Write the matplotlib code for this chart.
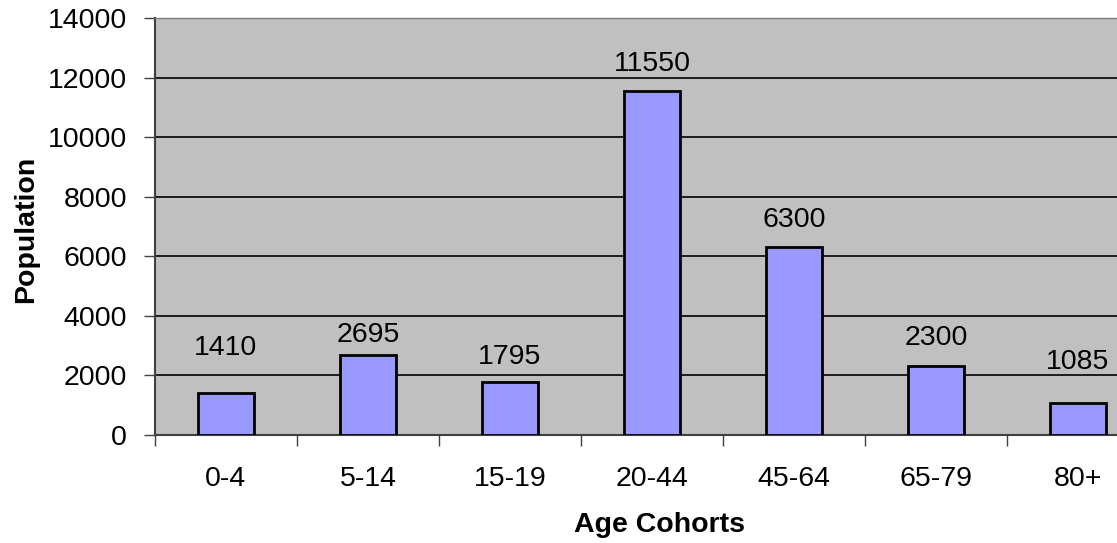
import matplotlib
matplotlib.use("Agg")
import matplotlib.pyplot as plt
import numpy as np

# --- data ---
cohorts = ["0-4", "5-14", "15-19", "20-44", "45-64", "65-79", "80+"]
population = [1410, 2695, 1795, 11550, 6300, 2300, 1085]
y_ticks = [0, 2000, 4000, 6000, 8000, 10000, 12000, 14000]

# label offsets above bar tops (points), as in the original
label_pad = [23, 5, 8, 10, 10, 11, 20]

plt.rcParams['font.family'] = ['Liberation Sans', 'DejaVu Sans']
fs = 20.5

W, H = 1117, 543
fig = plt.figure(figsize=(W / 100, H / 100), dpi=100)
# plot area runs past the right edge of the picture, as in the reference
ax = fig.add_axes([155 / W, 108 / H, 994 / W, 417 / H])
ax.set_facecolor("#C0C0C0")

x = np.arange(len(cohorts))
bars = ax.bar(x, population, width=0.4, color="#9999FF", edgecolor="black",
              linewidth=2, zorder=3)

for xi, v, pad in zip(x, population, label_pad):
    ax.annotate(str(v), (xi, v), xytext=(0, pad), textcoords="offset points",
                ha="center", va="bottom", fontsize=fs, color="black")

ax.set_xlim(-0.5, len(cohorts) - 0.5)
ax.set_ylim(0, 14000)
ax.set_yticks(y_ticks)
ax.yaxis.grid(True, color="black", linewidth=1.2, zorder=1)
ax.set_axisbelow(True)

# x ticks sit between categories, labels in the middle
ax.set_xticks(np.arange(-0.5, len(cohorts), 1.0))
ax.set_xticklabels([])
ax.set_xticks(x, minor=True)
ax.set_xticklabels(cohorts, minor=True)
ax.tick_params(axis="x", which="major", length=8, width=1, color="#404040")
ax.tick_params(axis="x", which="minor", length=0, pad=22, labelsize=fs)
ax.tick_params(axis="y", length=8, width=1, color="#404040", pad=12, labelsize=fs)

for s in ["top", "right"]:
    ax.spines[s].set_color("#808080")
    ax.spines[s].set_linewidth(1)
for s in ["left", "bottom"]:
    ax.spines[s].set_color("#404040")
    ax.spines[s].set_linewidth(1.5)

fig.text(659 / W, 1 - 525 / H, "Age Cohorts", ha="center", va="center",
         fontsize=fs, fontweight="bold")
fig.text(26 / W, 1 - 229 / H, "Population", ha="center", va="center",
         rotation=90, fontsize=fs, fontweight="bold")

fig.savefig("out.png", dpi=100)
